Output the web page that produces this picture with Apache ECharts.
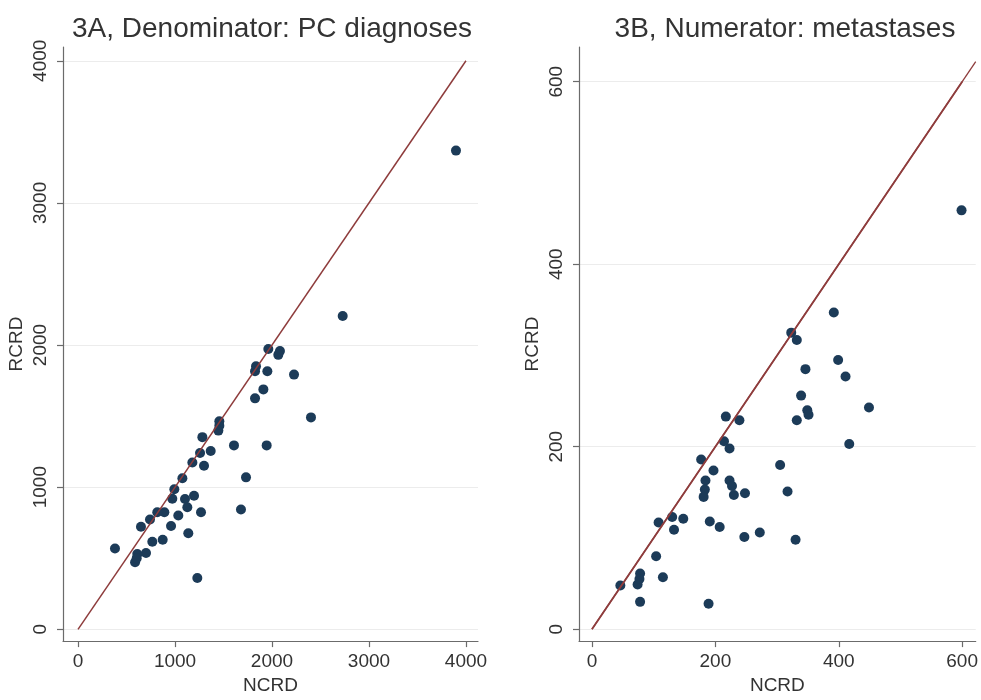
<!DOCTYPE html>
<html>
<head>
<meta charset="utf-8">
<script src="https://cdn.jsdelivr.net/npm/echarts@6/dist/echarts.min.js"></script>
<style>
html,body{margin:0;padding:0;background:#fff;}
#chart{width:981px;height:700px;}
</style>
</head>
<body>
<div id="chart"></div>
<script>
// Panel 3A: PC diagnoses (NCRD vs RCRD)
const ncrdA = [2729,1962,2082,2065,1835,1825,1952,2227,1911,1825,2402,1457,1457,1447,1282,1368,1608,1945,1258,1299,1179,1076,1732,993,972,1103,1196,1127,1268,1680,890,817,1034,742,649,959,1137,873,766,381,701,611,588,605,1230,3897];
const rcrdA = [2204,1972,1958,1931,1850,1815,1815,1792,1688,1625,1491,1463,1433,1398,1352,1255,1294,1294,1241,1151,1174,1063,1069,986,919,917,940,859,824,843,824,824,801,773,722,727,676,630,616,569,537,530,472,500,361,3368];
// Panel 3B: metastases (NCRD vs RCRD)
const ncrdB = [392,323,332,399,411,346,449,339,349,351,332,417,217,239,214,223,177,197,305,184,223,227,183,317,248,230,181,130,148,108,191,207,133,272,247,330,104,78,115,74,46,78,189,77,599];
const rcrdB = [347,325,317,295,277,285,243,256,240,235,229,203,233,229,206,198,186,174,180,163,163,157,153,151,149,147,145,123,121,117,118,112,109,106,101,98,80,61,57,49,48,30,28,55,459];
// Tick labels
const ticksA = [0,1000,2000,3000,4000];
const ticksB = [0,200,400,600];
const titles = ['3A, Denominator: PC diagnoses','3B, Numerator: metastases'];
const axisNames = {x:'NCRD', y:'RCRD'};
const diagA = [[0,0],[4000,4000]];
const diagB = [[0,0],[600,600]];
const diagB2 = [[0,0],[622,622]];

const FONT = 'Liberation Sans';
const axisCol = '#6b6b6b';
const labelCol = '#333333';
const dotCol = '#1c3b58';
const lineCol = '#8e3c3c';

function makeAxis(idx, min, max, ticks, isY){
  const a = {
    type:'value', gridIndex: idx, min: min, max: max,
    axisLine:{show:true, onZero:false, lineStyle:{color:axisCol, width:1.2}},
    axisTick:{show:true, length:6, customValues: ticks, lineStyle:{color:axisCol, width:1.2}},
    axisLabel:{show:true, customValues: ticks, formatter: v => String(v), color: labelCol,
      fontFamily: FONT, fontSize: 19, margin: isY ? 13 : 11},
    splitLine:{show: isY, lineStyle:{color:'#ececec', width:1}},
    name: isY ? axisNames.y : axisNames.x,
    nameLocation:'middle',
    nameGap: isY ? 37 : 33,
    nameTextStyle:{fontFamily: FONT, fontSize: 19, color: labelCol}
  };
  if (isY) { a.axisLabel.rotate = 90; }
  return a;
}

const chart = echarts.init(document.getElementById('chart'), null, {renderer:'canvas'});
chart.setOption({
  animation:false,
  backgroundColor:'#ffffff',
  title:[
    {text: titles[0], left: 267, top: 10, textAlign:'center',
     textStyle:{fontFamily: FONT, fontSize: 28, fontWeight:'normal', color:'#333'}},
    {text: titles[1], left: 780, top: 10, textAlign:'center',
     textStyle:{fontFamily: FONT, fontSize: 28, fontWeight:'normal', color:'#333'}}
  ],
  grid:[
    {left: 63, top: 47, width: 415, height: 603},
    {left: 579, top: 47, width: 402, height: 603}
  ],
  xAxis:[
    makeAxis(0, -155, 4124, ticksA, false),
    makeAxis(1, -21, 622, ticksB, false)
  ],
  yAxis:[
    makeAxis(0, -83, 4097, ticksA, true),
    makeAxis(1, -13, 638, ticksB, true)
  ],
  series:[
    {type:'scatter', xAxisIndex:0, yAxisIndex:0, symbolSize:10,
     itemStyle:{color: dotCol, opacity:1}, data: ncrdA.map((v,i)=>[v, rcrdA[i]]), z:2},
    {type:'scatter', xAxisIndex:1, yAxisIndex:1, symbolSize:10,
     itemStyle:{color: dotCol, opacity:1}, data: ncrdB.map((v,i)=>[v, rcrdB[i]]), z:2},
    {type:'line', xAxisIndex:0, yAxisIndex:0, data: diagA, symbol:'none',
     lineStyle:{color: lineCol, width:1.5}, z:3},
    {type:'line', xAxisIndex:1, yAxisIndex:1, data: diagB2, symbol:'none',
     lineStyle:{color: lineCol, width:1.3}, z:3},
    {type:'line', xAxisIndex:1, yAxisIndex:1, data: diagB, symbol:'none',
     lineStyle:{color: lineCol, width:1.8}, z:3}
  ]
});
</script>
</body>
</html>
